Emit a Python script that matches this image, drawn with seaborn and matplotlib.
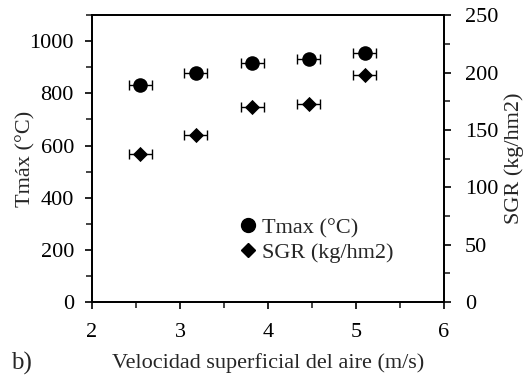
import matplotlib
matplotlib.use("Agg")
import matplotlib.pyplot as plt
from matplotlib.ticker import MultipleLocator
from matplotlib.lines import Line2D
import numpy as np
import pandas as pd
import seaborn as sns

# Superficial air velocity (m/s) and the measured responses
velocidad = [2.55, 3.18, 3.82, 4.46, 5.10]
tmax = [831, 877, 917, 931, 956]
sgr = [129, 146, 170, 173, 198]
err_vel = [0.13, 0.13, 0.13, 0.13, 0.13]

sns.set_style("ticks")
plt.rcParams["font.family"] = ["Liberation Serif", "DejaVu Serif"]

df = pd.DataFrame({"vel": velocidad, "tmax": tmax, "sgr": sgr, "err": err_vel})

fig = plt.figure(figsize=(5.23, 3.79), dpi=100)
ax = fig.add_axes([0.176, 0.203, 0.673, 0.757])
ax2 = ax.twinx()

fs = 16
ebkw = dict(fmt="none", ecolor="black", elinewidth=1.0, capsize=3.5, capthick=1.0)

ax.errorbar(df["vel"], df["tmax"], xerr=df["err"], **ebkw)
sns.scatterplot(data=df, x="vel", y="tmax", ax=ax, marker="o", s=110,
                color="black", edgecolor="black", linewidth=0, zorder=3)

ax2.errorbar(df["vel"], df["sgr"], xerr=df["err"], **ebkw)
sns.scatterplot(data=df, x="vel", y="sgr", ax=ax2, marker="D", s=60,
                color="black", edgecolor="black", linewidth=0, zorder=3)

ax.set_xlim(2, 6)
ax.set_ylim(0, 1100)
ax2.set_ylim(0, 250)
ax.xaxis.set_major_locator(MultipleLocator(1))
ax.xaxis.set_minor_locator(MultipleLocator(0.5))
ax.yaxis.set_major_locator(MultipleLocator(200))
ax.yaxis.set_minor_locator(MultipleLocator(100))
ax2.yaxis.set_major_locator(MultipleLocator(50))
ax2.yaxis.set_minor_locator(MultipleLocator(25))

for a in (ax, ax2):
    a.tick_params(which="major", direction="out", length=5, width=1.2,
                  labelsize=fs, colors="black", pad=8)
    a.tick_params(which="minor", direction="out", length=4, width=1.2)
    for sp in a.spines.values():
        sp.set_linewidth(1.3)
        sp.set_color("black")
ax.tick_params(axis="x", which="major", pad=10)
ax2.tick_params(axis="y", which="major", pad=10)

ax.set_xlabel("Velocidad superficial del aire (m/s)", fontsize=fs, labelpad=8)
ax.set_ylabel("Tmáx (°C)", fontsize=fs, labelpad=-4)
ax2.set_ylabel("SGR (kg/hm2)", fontsize=fs, labelpad=4)

handles = [
    Line2D([], [], marker="o", color="black", linestyle="none", markersize=10),
    Line2D([], [], marker="D", color="black", linestyle="none", markersize=7),
]
ax.legend(handles, ["Tmax (°C)", "SGR (kg/hm2)"], loc="lower left",
          bbox_to_anchor=(0.40, 0.105), frameon=False, fontsize=fs,
          handlelength=0.6, handletextpad=0.3, labelspacing=0.2, borderaxespad=0)

fig.text(0.022, 0.010, "b)", fontsize=fs + 2, ha="left", va="bottom")

fig.savefig("out.png", dpi=100)
